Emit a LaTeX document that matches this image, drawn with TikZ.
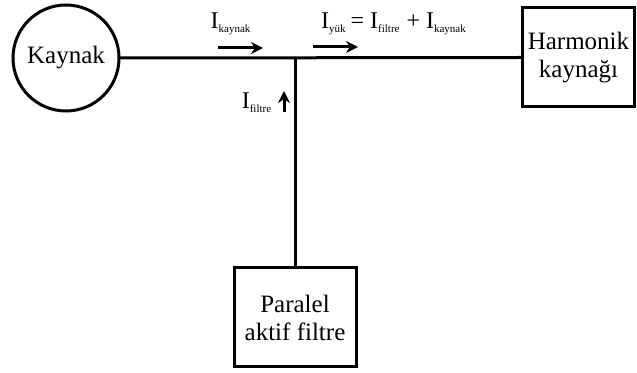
\documentclass[tikz,border=0pt]{standalone}
\usepackage{fontspec}
\setmainfont{Liberation Serif}
\usepackage{tikz}
\usetikzlibrary{arrows.meta,positioning,calc}
\newcommand{\subs}[1]{\textsubscript{\fontsize{5.5}{6}\selectfont #1}}
\tikzset{
  wire/.style={draw=black,line width=1.5pt},
  srcnode/.style={circle,draw=black,line width=1.5pt,minimum size=53pt,inner sep=0pt,
    outer sep=0pt,font=\fontsize{12.5}{14}\selectfont},
  blockbox/.style={rectangle,draw=black,line width=1.5pt,minimum height=49.5pt,align=center,
    inner sep=2pt,outer sep=0pt,font=\fontsize{12.5}{14}\selectfont},
  curarrow/.style={-{Stealth[length=6pt,width=6pt]},draw=black,line width=1.5pt},
  curlabel/.style={inner sep=0pt,font=\fontsize{12}{13}\selectfont}
}
\begin{document}
\begin{tikzpicture}[x=0.5pt,y=-0.5pt]
  \useasboundingbox (0,0) rectangle (637,373);
  \node[srcnode] (kaynak) at (66,58) {Kaynak};
  \node[blockbox,minimum width=56pt] (harm) at (578.5,57.5) {Harmonik\\kaynağı};
  \node[blockbox,minimum width=61pt] (filtre) at (295,317.5) {Paralel\\aktif filtre};
  \coordinate (junc) at (295,58);
  \draw[wire] (kaynak.east)--(harm.west);
  \draw[wire] (junc)--(filtre.north);
  % akim oklari
  \coordinate (ika) at (218,48);
  \coordinate (ikb) at (263,48);
  \coordinate (iya) at (313,47);
  \coordinate (iyb) at (358,47);
  \coordinate (ifa) at (284,112);
  \coordinate (ifb) at (284,91);
  \draw[curarrow] (ika)--(ikb);
  \draw[curarrow] (iya)--(iyb);
  \draw[curarrow] (ifa)--(ifb);
  \node[curlabel] (ikl) at (231,24) {I\subs{kaynak}};
  \node[curlabel] (iyl) at (394,24) {I\subs{yük}\,= I\subs{filtre} + I\subs{kaynak}};
  \node[curlabel] (ifl) at (257,103) {I\subs{filtre}};
\end{tikzpicture}
\end{document}
